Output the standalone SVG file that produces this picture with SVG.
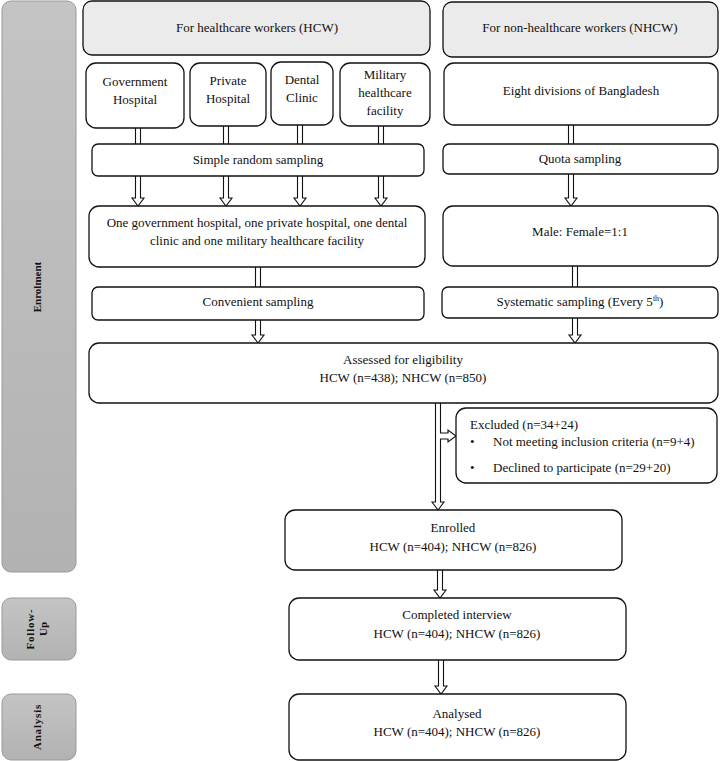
<svg xmlns="http://www.w3.org/2000/svg" width="723" height="761" viewBox="0 0 723 761">
<style>
text{font-family:"Liberation Serif","Times New Roman",serif;font-size:13px;fill:#111}
.c{text-anchor:middle}
.b{fill:#fff;stroke:#111;stroke-width:1.3}
.h{fill:#ebebeb;stroke:#111;stroke-width:1.3}
.s{fill:url(#g);stroke:#9a9a9a;stroke-width:1}
.st{font-size:11px;font-weight:bold;text-anchor:middle}
.a{fill:#fff;stroke:#111;stroke-width:1.1}
</style>
<defs>
<linearGradient id="g" x1="0" y1="0" x2="0" y2="1">
<stop offset="0" stop-color="#c4c4c4"/>
<stop offset="1" stop-color="#b2b2b2"/>
</linearGradient>
</defs>
<g id="connectors">
<path class="a" d="M135.5,128 V198 H132 L138,206 L144,198 H140.5 V128"/>
<path class="a" d="M223.5,126 V198 H220 L226,206 L232,198 H228.5 V126"/>
<path class="a" d="M297.5,125 V198 H294 L300,206 L306,198 H302.5 V125"/>
<path class="a" d="M378.5,126 V198 H375 L381,206 L387,198 H383.5 V126"/>
<path class="a" d="M568.5,125 V198 H565 L571,206 L577,198 H573.5 V125"/>
<path class="a" d="M255.5,267 V335 H252 L258,343 L264,335 H260.5 V267"/>
<path class="a" d="M572.5,266 V335 H569 L575,343 L581,335 H577.5 V266"/>
<path class="a" d="M435.5,403 V502 H432 L438,510 L444,502 H440.5 V439 H448 V442 L456,436 L448,430 V433 H440.5 V403"/>
<path class="a" d="M437.5,570 V590 H434 L440,598 L446,590 H442.5 V570"/>
<path class="a" d="M438.5,660 V686 H435 L441,694 L447,686 H443.5 V660"/>
</g>
<g id="stage-enrolment"><rect class="s" x="2" y="1" width="74" height="571" rx="9"/><text class="st" transform="translate(41,287) rotate(-90)">Enrolment</text></g>
<g id="stage-followup"><rect class="s" x="2" y="598" width="74" height="62" rx="9"/><text class="st" transform="translate(34,629) rotate(-90)" style="letter-spacing:0.8px">Follow-</text><text class="st" transform="translate(47,629) rotate(-90)">Up</text></g>
<g id="stage-analysis"><rect class="s" x="2" y="694" width="74" height="66" rx="9"/><text class="st" transform="translate(41,727) rotate(-90)" style="letter-spacing:0.8px">Analysis</text></g>
<g id="hcw"><rect class="h" x="83" y="1" width="347" height="54" rx="9"/><text class="c" x="257" y="32">For healthcare workers (HCW)</text></g>
<g id="nhcw"><rect class="h" x="443" y="2" width="275" height="55" rx="9"/><text class="c" x="580" y="32">For non-healthcare workers (NHCW)</text></g>
<g id="gov"><rect class="b" x="86" y="63" width="98" height="65" rx="10"/><text class="c" x="135" y="86">Government</text><text class="c" x="135" y="104">Hospital</text></g>
<g id="private"><rect class="b" x="190" y="63" width="76" height="63" rx="10"/><text class="c" x="228" y="85">Private</text><text class="c" x="228" y="103">Hospital</text></g>
<g id="dental"><rect class="b" x="271" y="62" width="62" height="63" rx="10"/><text class="c" x="302" y="84">Dental</text><text class="c" x="302" y="102">Clinic</text></g>
<g id="military"><rect class="b" x="340" y="63" width="90" height="63" rx="10"/><text class="c" x="385" y="79">Military</text><text class="c" x="385" y="97">healthcare</text><text class="c" x="385" y="115">facility</text></g>
<g id="divisions"><rect class="b" x="444" y="63" width="274" height="62" rx="10"/><text class="c" x="581" y="95">Eight divisions of Bangladesh</text></g>
<g id="srs"><rect class="b" x="92" y="144" width="332" height="32" rx="6"/><text class="c" x="258" y="164">Simple random sampling</text></g>
<g id="quota"><rect class="b" x="443" y="144" width="275" height="30" rx="6"/><text class="c" x="580" y="163">Quota sampling</text></g>
<g id="onegov"><rect class="b" x="89" y="206" width="336" height="61" rx="10"/><text class="c" x="257" y="227">One government hospital, one private hospital, one dental</text><text class="c" x="257" y="245">clinic and one military healthcare facility</text></g>
<g id="mf"><rect class="b" x="443" y="206" width="275" height="60" rx="10"/><text class="c" x="580" y="236">Male: Female=1:1</text></g>
<g id="conv"><rect class="b" x="92" y="287" width="332" height="33" rx="6"/><text class="c" x="258" y="306">Convenient sampling</text></g>
<g id="sys"><rect class="b" x="442" y="287" width="276" height="31" rx="6"/><text class="c" x="580" y="306">Systematic sampling (Every 5<tspan font-size="8" dy="-5">th</tspan><tspan dy="5">)</tspan></text></g>
<g id="assessed"><rect class="b" x="89" y="343" width="629" height="60" rx="10"/><text class="c" x="403" y="364">Assessed for eligibility</text><text class="c" x="403" y="382">HCW (n=438); NHCW (n=850)</text></g>
<g id="excluded"><rect class="b" x="456" y="408" width="261" height="75" rx="10"/><text x="470" y="429">Excluded (n=34+24)</text><text x="470" y="446">•</text><text x="493" y="446">Not meeting inclusion criteria (n=9+4)</text><text x="470" y="472">•</text><text x="493" y="472">Declined to participate (n=29+20)</text></g>
<g id="enrolled"><rect class="b" x="285" y="510" width="337" height="60" rx="10"/><text class="c" x="453" y="532">Enrolled</text><text class="c" x="453" y="551">HCW (n=404); NHCW (n=826)</text></g>
<g id="completed"><rect class="b" x="289" y="598" width="337" height="62" rx="10"/><text class="c" x="457" y="619">Completed interview</text><text class="c" x="457" y="638">HCW (n=404); NHCW (n=826)</text></g>
<g id="analysed"><rect class="b" x="289" y="694" width="337" height="66" rx="10"/><text class="c" x="457" y="718">Analysed</text><text class="c" x="457" y="736">HCW (n=404); NHCW (n=826)</text></g>
</svg>
